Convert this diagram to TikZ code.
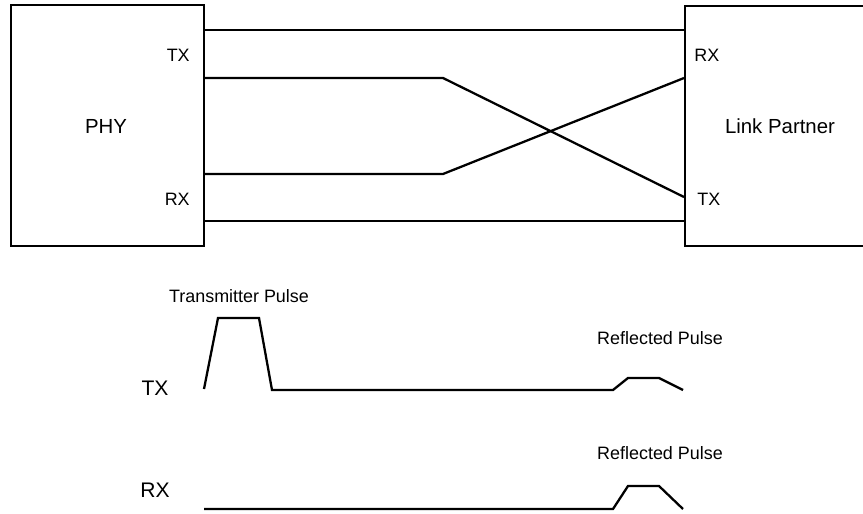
\documentclass[tikz,border=0pt]{standalone}
\usepackage{fontspec}
\setmainfont{Liberation Sans}
\usepackage{tikz}
\usetikzlibrary{positioning}
\tikzset{
  unit/.style={draw, line width=1.3pt, rectangle, inner sep=0pt},
  wire/.style={line width=1.3pt},
  pin/.style={font=\fontsize{10.2}{12}\selectfont, inner sep=0pt},
  big/.style={font=\fontsize{11.6}{14}\selectfont, inner sep=0pt},
  sig/.style={font=\fontsize{12}{14}\selectfont, inner sep=0pt}
}

\begin{document}
\begin{tikzpicture}[x=0.02cm, y=-0.02cm]
      \path[use as bounding box, clip] (0,0) rectangle (863,514);
      % the two ends of the link
      \node[unit, minimum width=3.86cm, minimum height=4.82cm] (phy) at (107.5,125.5) {};
      \node[unit, minimum width=4.4cm, minimum height=4.8cm, anchor=west] (lp) at (684,126) {};
      \node[big] (phylbl) at (106,126) {PHY};
      \node[big] (lplbl) at (780,126) {Link Partner};
      \node[pin, anchor=east] (phytx) at (190,55) {TX};
      \node[pin, anchor=east] (phyrx) at (190,199) {RX};
      \node[pin, anchor=west] (lprx) at (694,55) {RX};
      \node[pin, anchor=west] (lptx) at (697,199) {TX};
      % wire pairs
      \coordinate (a1) at (phy.east |- 0,30);   \coordinate (b1) at (lp.west |- 0,30);
      \coordinate (a2) at (phy.east |- 0,78);   \coordinate (b2) at (lp.west |- 0,197);
      \coordinate (a3) at (phy.east |- 0,174);  \coordinate (b3) at (lp.west |- 0,78);
      \coordinate (a4) at (phy.east |- 0,221);  \coordinate (b4) at (lp.west |- 0,221);
      \coordinate (k2) at (443,78);
      \coordinate (k3) at (443,174);
      \draw[wire] (a1) -- (b1);
      \draw[wire] (a2) -- (k2) -- (b2);
      \draw[wire] (a3) -- (k3) -- (b3);
      \draw[wire] (a4) -- (b4);
      % pulses
      \node[pin] (txp) at (239,296) {Transmitter Pulse};
      \node[pin] (ref1) at (660,338) {Reflected Pulse};
      \node[pin] (ref2) at (660,453) {Reflected Pulse};
      \node[sig] (txsig) at (155,388) {TX};
      \node[sig] (rxsig) at (155,490) {RX};
      \draw[wire] (204,389) -- (218,318) -- (259,318) -- (272,390) -- (613,390)
                  -- (628,378) -- (659,378) -- (683,390);
      \draw[wire] (204,509) -- (613,509) -- (628,486) -- (659,486) -- (683,509);
\end{tikzpicture}
\end{document}
